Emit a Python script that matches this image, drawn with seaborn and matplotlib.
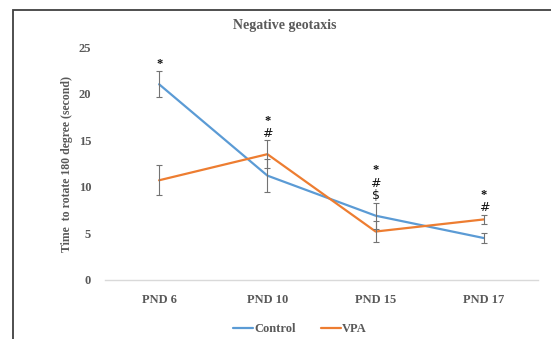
import numpy as np
import pandas as pd
import matplotlib
matplotlib.use("Agg")
import matplotlib.pyplot as plt
import seaborn as sns
from matplotlib.patches import Rectangle

# Data (mean +/- SE)
days = ["PND 6", "PND 10", "PND 15", "PND 17"]
control_mean = [21.0, 11.2, 6.9, 4.5]
control_se = [1.4, 1.75, 1.4, 0.5]
vpa_mean = [10.7, 13.5, 5.2, 6.5]
vpa_se = [1.6, 1.5, 1.15, 0.5]
signif = ["*", "*#", "*#$", "*#"]

df = pd.DataFrame({
    "day": days * 2,
    "time": control_mean + vpa_mean,
    "group": ["Control"] * 4 + ["VPA"] * 4,
})

sns.set_style("white")
plt.rcParams["font.family"] = ["Liberation Serif", "DejaVu Serif"]
plt.rcParams["font.weight"] = "bold"
txt = "#595959"

fig = plt.figure(figsize=(5.51, 3.39), dpi=100)
ax = fig.add_axes([105 / 551, 1 - 280 / 339, 433 / 551, 233 / 339])

palette = {"Control": "#5B9BD5", "VPA": "#ED7D31"}
sns.lineplot(data=df, x="day", y="time", hue="group", palette=palette,
             sort=False, linewidth=1.6, ax=ax, legend=False)

x = np.arange(len(days))
for m, s in [(control_mean, control_se), (vpa_mean, vpa_se)]:
    ax.errorbar(x, m, yerr=s, fmt="none", ecolor="#737373",
                elinewidth=0.8, capsize=2, capthick=0.8)

# significance marks stacked above highest error bar
for i, marks in enumerate(signif):
    top = max(control_mean[i] + control_se[i], vpa_mean[i] + vpa_se[i])
    for j, ch in enumerate(reversed(marks)):
        ax.text(i, top + 0.75 + j * 1.35, ch, ha="center", va="center",
                fontsize=9, color="#111111",
                fontweight="bold" if ch == "*" else "normal",
                family=["DejaVu Sans"] if ch != "*" else None)

ax.set_xlim(-0.5, 3.5)
ax.set_ylim(0, 25)
ax.set_yticks([0, 5, 10, 15, 20, 25])
ax.set_xlabel("")
ax.set_ylabel("Time  to rotate 180 degree (second)", fontsize=8.5,
              fontweight="bold", color=txt, labelpad=4)
ax.tick_params(axis="both", length=0, labelsize=9, colors=txt)
ax.tick_params(axis="x", pad=10)
ax.tick_params(axis="y", pad=10)
for lab in ax.get_xticklabels() + ax.get_yticklabels():
    lab.set_fontweight("bold")
for side in ["top", "right", "left"]:
    ax.spines[side].set_visible(False)
ax.spines["bottom"].set_color("#d9d9d9")
ax.spines["bottom"].set_linewidth(1.0)

fig.text(285 / 551, 1 - 26 / 339, "Negative geotaxis", ha="center",
         va="center", fontsize=10, fontweight="bold", color=txt)

handles = [plt.Line2D([], [], color=palette[g], lw=1.6) for g in palette]
fig.legend(handles, list(palette), loc="center", ncol=2, frameon=False,
           bbox_to_anchor=(300 / 551, 1 - 329 / 339),
           handlelength=1.6, handletextpad=0.1, columnspacing=2.0,
           labelcolor=txt, prop={"weight": "bold", "size": 9})

fig.patches.append(Rectangle((13 / 551, -0.1), 1.2, 1.1 - 10 / 339,
                             transform=fig.transFigure, fill=False,
                             edgecolor="#404040", linewidth=1.3))

fig.savefig("out.png", dpi=100)
